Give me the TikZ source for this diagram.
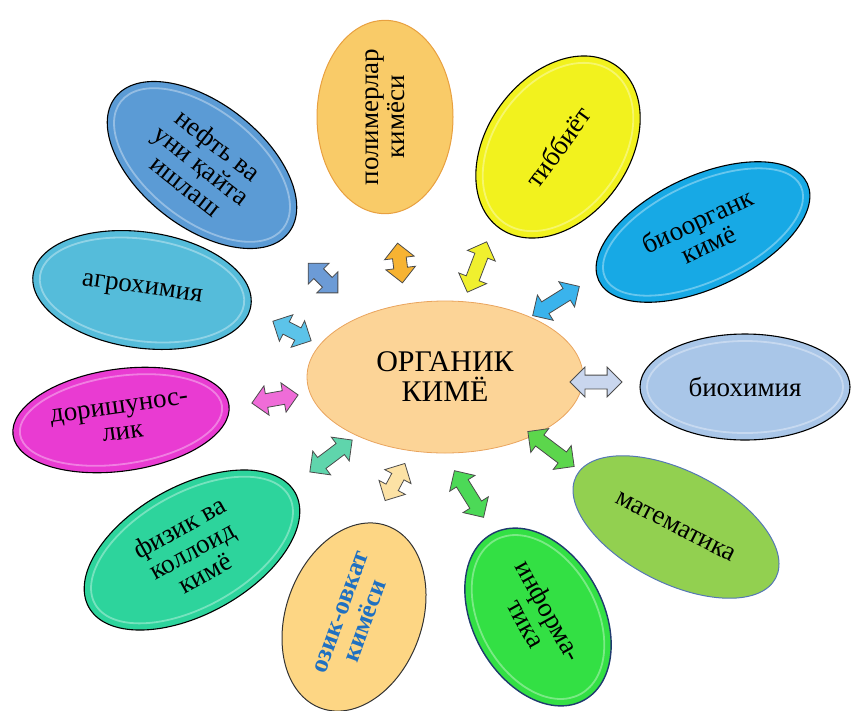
\documentclass[tikz,border=0pt]{standalone}
\usepackage{fontspec}
\setmainfont{Liberation Serif}
\usetikzlibrary{shapes.geometric,shapes.arrows}
\definecolor{neftc}{HTML}{5B9BD5}
\definecolor{polc}{HTML}{F9CB68}
\definecolor{polb}{HTML}{E8A040}
\definecolor{tibc}{HTML}{F2F21E}
\definecolor{bioc}{HTML}{17A9E5}
\definecolor{bxc}{HTML}{A9C6E8}
\definecolor{matc}{HTML}{92D050}
\definecolor{matb}{HTML}{5577B5}
\definecolor{infc}{HTML}{33E044}
\definecolor{infb}{HTML}{1F3A6E}
\definecolor{ozc}{HTML}{FDD684}
\definecolor{ozt}{HTML}{1F70C1}
\definecolor{fizc}{HTML}{2DD49C}
\definecolor{dorc}{HTML}{E93BD2}
\definecolor{agrc}{HTML}{55BCDA}
\definecolor{cenc}{HTML}{FCD497}
\definecolor{cenb}{HTML}{E9A45E}
\definecolor{a1}{HTML}{6C9BD6}
\definecolor{a2}{HTML}{F7B332}
\definecolor{a3}{HTML}{F0F02E}
\definecolor{a4}{HTML}{3AB3EC}
\definecolor{a5}{HTML}{C9D6EE}
\definecolor{a6}{HTML}{5CD64C}
\definecolor{a7}{HTML}{4CD957}
\definecolor{a8}{HTML}{FCE2A5}
\definecolor{a9}{HTML}{5FD5AC}
\definecolor{a10}{HTML}{EF6CD8}
\definecolor{a11}{HTML}{5CC3E9}
\newcommand\mygloss[4]{\draw[white,opacity=.35,line width=1.8pt,rotate around={#2:(#1.center)}] (#1.center) ellipse [x radius=#3pt, y radius=#4pt];}
\begin{document}
\begin{tikzpicture}[x=1pt,y=-1pt,
  bubble/.style={ellipse, draw=black, line width=1.1pt, inner sep=0pt, align=center,
    font=\fontsize{27}{26}\selectfont},
  dbl/.style={double arrow, draw=black!70, line width=0.8pt, inner sep=0pt,
    inner ysep=6.5pt, double arrow head extend=8pt, minimum width=29pt}]
\useasboundingbox (0,0) rectangle (851,710);

% central
\node[ellipse, fill=cenc, draw=cenb, line width=0.8pt, minimum width=276pt, minimum height=152pt,
  inner sep=0pt, align=center, font=\fontsize{30}{30}\selectfont] (c) at (445,377) {ОРГАНИК\\КИМЁ};

% outer bubbles
\node[bubble, fill=neftc, minimum width=220pt, minimum height=124pt, rotate=-38] (neft) at (202,165) {нефть ва\\уни қайта\\ишлаш};
\node[bubble, fill=polc, draw=polb, line width=1pt, minimum width=190pt, minimum height=136pt, rotate=90] (pol) at (385,117) {полимерлар\\кимёси};
\node[bubble, fill=tibc, minimum width=200pt, minimum height=142pt, rotate=54] (tib) at (558,147) {тиббиёт};
\node[bubble, fill=bioc, minimum width=230pt, minimum height=112pt, rotate=25] (bio) at (703,232) {биоорганк\\кимё};
\node[bubble, fill=bxc, minimum width=210pt, minimum height=106pt] (bx) at (745,387) {биохимия};
\node[bubble, fill=matc, draw=matb, line width=1pt, minimum width=224pt, minimum height=112pt, rotate=-27] (mat) at (676,527) {математика};
\node[bubble, fill=infc, draw=infb, line width=1.4pt, minimum width=190pt, minimum height=130pt, rotate=-61] (inf) at (538,617) {информа-\\тика};
\node[bubble, fill=ozc, draw=black!80, line width=1pt, minimum width=194pt, minimum height=136pt, rotate=70,
  font=\fontsize{26}{27}\selectfont\bfseries\color{ozt}] (oz) at (354,617) {озик-овкат\\кимёси};
\node[bubble, fill=fizc, minimum width=236pt, minimum height=128pt, rotate=29] (fiz) at (192,550) {физик ва\\коллоид\\кимё};
\node[bubble, fill=dorc, minimum width=218pt, minimum height=102pt, rotate=8] (dor) at (121,420) {доришунос-\\лик};
\node[bubble, fill=agrc, minimum width=220pt, minimum height=116pt, rotate=-8] (agr) at (142,290) {агрохимия};

% gloss
\mygloss{neft}{-38}{103}{55}
\mygloss{tib}{54}{93}{64}
\mygloss{bio}{25}{108}{49}
\mygloss{bx}{0}{98}{46}
\mygloss{inf}{-61}{88}{58}
\mygloss{fiz}{29}{111}{57}
\mygloss{dor}{8}{102}{44}
\mygloss{agr}{-8}{103}{51}

% double arrows
\node[dbl, fill=a1, minimum height=42pt, rotate=-45] (r1) at (323,278) {};
\node[dbl, fill=a2, minimum height=40pt, rotate=97] (r2) at (400,263) {};
\node[dbl, fill=a3, minimum height=54pt, rotate=69] (r3) at (477,267) {};
\node[dbl, fill=a4, minimum height=55pt, rotate=32] (r4) at (556,301) {};
\node[dbl, fill=a5, minimum height=52pt, rotate=0] (r5) at (596,382) {};
\node[dbl, fill=a6, minimum height=58pt, rotate=-37] (r6) at (551,449) {};
\node[dbl, fill=a7, minimum height=55pt, rotate=-58] (r7) at (469,494) {};
\node[dbl, fill=a8, minimum height=42pt, rotate=62] (r8) at (395,482) {};
\node[dbl, fill=a9, minimum height=53pt, rotate=37] (r9) at (331,456) {};
\node[dbl, fill=a10, minimum height=47pt, rotate=10] (r10) at (275,399) {};
\node[dbl, fill=a11, minimum height=43pt, rotate=-27] (r11) at (292,331) {};
\end{tikzpicture}
\end{document}
